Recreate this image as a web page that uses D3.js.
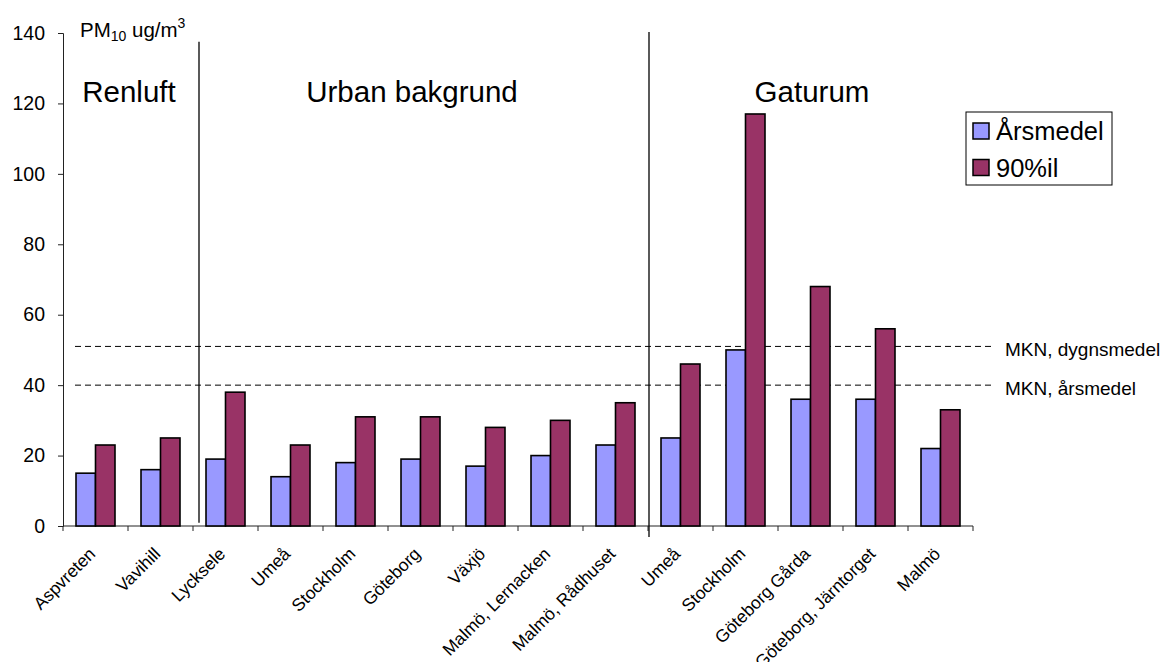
<!DOCTYPE html>
<html>
<head>
<meta charset="utf-8">
<script src="https://cdn.jsdelivr.net/npm/d3@7"></script>
<style>
  html, body { margin: 0; padding: 0; background: #fff; }
  svg { display: block; font-family: "Liberation Sans", Arial, sans-serif; }
</style>
</head>
<body>
<svg id="chart" width="1167" height="662"></svg>
<script>
// PM10 per station: annual mean and 90th percentile of daily means (ug/m3)
const stations = [
  "Aspvreten", "Vavihill", "Lycksele", "Umeå", "Stockholm", "Göteborg",
  "Växjö", "Malmö, Lernacken", "Malmö, Rådhuset",
  "Umeå", "Stockholm", "Göteborg Gårda", "Göteborg, Järntorget", "Malmö"
];
const arsmedel = [15, 16, 19, 14, 18, 19, 17, 20, 23, 25, 50, 36, 36, 22];
const percentil90 = [23, 25, 38, 23, 31, 31, 28, 30, 35, 46, 117, 68, 56, 33];
const seriesNames = ["Årsmedel", "90%il"];
const seriesColors = ["#9999FF", "#993366"];
const yTicks = [0, 20, 40, 60, 80, 100, 120, 140];

// Station groups (first station index of each group)
const groupNames = ["Renluft", "Urban bakgrund", "Gaturum"];
const groupStart = [0, 2, 9];

// Limit values (MKN) drawn as dashed reference lines
const limitNames = ["MKN, dygnsmedel", "MKN, årsmedel"];
const limitValues = [51, 40];

const svg = d3.select("#chart");

const x = d3.scaleBand()
  .domain(d3.range(stations.length))
  .range([63, 973])
  .padding(0);

const xSeries = d3.scaleBand()
  .domain(d3.range(seriesNames.length))
  .range([0, x.bandwidth()])
  .paddingInner(0)
  .paddingOuter(0.667);

const y = d3.scaleLinear().domain([0, 140]).range([526, 33]);

// Y axis
const yAxis = svg.append("g")
  .attr("transform", `translate(${x.range()[0]},0)`)
  .call(d3.axisLeft(y).tickValues(yTicks).tickSize(5).tickPadding(13).tickFormat(d3.format("d")));
yAxis.selectAll("path, line").attr("stroke", "#222");
yAxis.selectAll("text").attr("font-size", 19.5).attr("fill", "#000")
  .attr("font-family", "'Liberation Sans', Arial, sans-serif");

// X axis baseline with ticks at band boundaries
const xAxisG = svg.append("g");
xAxisG.append("line")
  .attr("x1", x.range()[0]).attr("x2", x.range()[1])
  .attr("y1", y(0)).attr("y2", y(0))
  .attr("stroke", "#222");
xAxisG.selectAll("line.tick")
  .data(d3.range(stations.length + 1))
  .join("line")
  .attr("class", "tick")
  .attr("x1", i => x.range()[0] + i * x.step())
  .attr("x2", i => x.range()[0] + i * x.step())
  .attr("y1", y(0)).attr("y2", y(0) + 5)
  .attr("stroke", "#222");

// Station labels, rotated
svg.append("g").selectAll("text")
  .data(stations)
  .join("text")
  .attr("transform", (d, i) => `translate(${x(i) + x.bandwidth() / 2 + 1},${y(0) + 29}) rotate(-45)`)
  .attr("text-anchor", "end")
  .attr("font-size", 17.5)
  .text(d => d);

// Reference lines
const refG = svg.append("g");
refG.selectAll("line")
  .data(limitValues)
  .join("line")
  .attr("x1", x(0) + 12).attr("x2", x.range()[1] + 18)
  .attr("y1", d => y(d)).attr("y2", d => y(d))
  .attr("stroke", "#000")
  .attr("stroke-width", 1)
  .attr("stroke-dasharray", "6,4");
refG.selectAll("text")
  .data(limitValues)
  .join("text")
  .attr("x", x.range()[1] + 32)
  .attr("y", d => y(d) + 9.5)
  .attr("font-size", 19)
  .text((d, i) => limitNames[i]);

// Bars
const values = [arsmedel, percentil90];
const groups = svg.append("g").selectAll("g")
  .data(stations.map((s, i) => i))
  .join("g")
  .attr("transform", i => `translate(${x(i)},0)`);
groups.selectAll("rect")
  .data(i => values.map((v, s) => ({ s, v: v[i] })))
  .join("rect")
  .attr("x", d => xSeries(d.s))
  .attr("width", xSeries.bandwidth())
  .attr("y", d => y(d.v))
  .attr("height", d => y(0) - y(d.v))
  .attr("fill", d => seriesColors[d.s])
  .attr("stroke", "#000")
  .attr("stroke-width", 1.6);

// Group separators
svg.append("line")
  .attr("x1", x(groupStart[1]) + 6).attr("x2", x(groupStart[1]) + 6)
  .attr("y1", y(137.5)).attr("y2", y(0.9))
  .attr("stroke", "#000").attr("stroke-width", 1.3);
svg.append("line")
  .attr("x1", x(groupStart[2]) + 1).attr("x2", x(groupStart[2]) + 1)
  .attr("y1", y(140.3)).attr("y2", y(-3.1))
  .attr("stroke", "#000").attr("stroke-width", 1.3);

// Group titles
const groupX = [x(0) + x.step() + 1, x(groupStart[1]) + 219, x(groupStart[2]) + 164];
svg.append("g").selectAll("text")
  .data(groupNames)
  .join("text")
  .attr("x", (d, i) => groupX[i])
  .attr("y", 102)
  .attr("text-anchor", "middle")
  .attr("font-size", 29.5)
  .text(d => d);

// Unit label: PM10 ug/m3
const unit = svg.append("text")
  .attr("x", x.range()[0] + 17)
  .attr("y", 37)
  .attr("font-size", 20.5);
unit.append("tspan").text("PM");
unit.append("tspan").attr("font-size", 14).attr("dy", 4).text("10");
unit.append("tspan").attr("dy", -4).text(" ug/m");
unit.append("tspan").attr("font-size", 14).attr("dy", -9).text("3");

// Legend
const legend = svg.append("g").attr("transform", "translate(966,112)");
legend.append("rect")
  .attr("width", 146).attr("height", 73)
  .attr("fill", "#fff").attr("stroke", "#000").attr("stroke-width", 1);
const items = legend.selectAll("g.item")
  .data(seriesNames)
  .join("g")
  .attr("class", "item")
  .attr("transform", (d, i) => `translate(7,${11 + i * 36.5})`);
items.append("rect")
  .attr("width", 16).attr("height", 16)
  .attr("fill", (d, i) => seriesColors[i])
  .attr("stroke", "#000").attr("stroke-width", 1.5);
items.append("text")
  .attr("x", 23).attr("y", 17)
  .attr("font-size", 25.5)
  .text(d => d);
</script>
</body>
</html>
